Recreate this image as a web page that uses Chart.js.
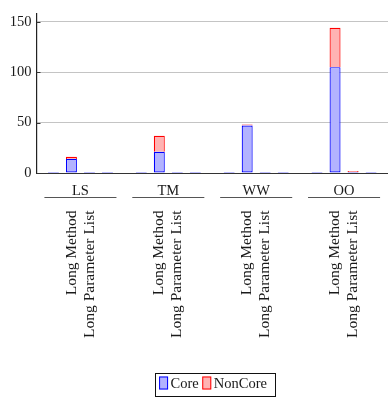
<!DOCTYPE html>
<html>
<head>
<meta charset="utf-8">
<script src="https://cdn.jsdelivr.net/npm/chart.js@4"></script>
<style>
  html, body { margin: 0; padding: 0; background: #fff; }
  canvas { display: block; }
</style>
</head>
<body>
<canvas id="c" width="388" height="398"></canvas>
<script>
// Projects (groups along the x axis)
const groups = ['LS', 'TM', 'WW', 'OO'];
// Smell names printed under the two middle bar slots of each group
const smellLabels = ['Long Method', 'Long Parameter List'];

// Core occurrences per slot (one value per project)
const coreLead        = [0, 0, 0, 0];
const coreLongMethod  = [14, 21, 47, 105];
const coreLongParam   = [0, 0, 0, 1];
const coreTrail       = [0, 0, 0, 0];

// NonCore occurrences per slot (one value per project)
const nonCoreLead       = [0, 0, 0, 0];
const nonCoreLongMethod = [2, 16, 1, 39];
const nonCoreLongParam  = [0, 0, 0, 1];
const nonCoreTrail      = [0, 0, 0, 0];

// Value axis
const yTicks = [0, 50, 100, 150];
const yMax = 158;

const SERIF = '"Liberation Serif", "Times New Roman", serif';
const TEXT = '#1a1a1a';

const coreStyle = {
  label: 'Core', backgroundColor: '#b3b3ff', borderColor: '#0000ff',
  borderSkipped: false, minBarLength: 1
};
const nonCoreStyle = {
  label: 'NonCore', backgroundColor: '#ffb3b3', borderColor: '#ff0000',
  borderSkipped: 'start'
};

const slots = [
  [coreLead, nonCoreLead],
  [coreLongMethod, nonCoreLongMethod],
  [coreLongParam, nonCoreLongParam],
  [coreTrail, nonCoreTrail]
];

const datasets = [];
slots.forEach((pair, s) => {
  datasets.push(Object.assign({ data: pair[0], stack: 'slot' + s }, coreStyle));
  datasets.push(Object.assign({ data: pair[1], stack: 'slot' + s }, nonCoreStyle));
});

// Draws the group names with rules, the rotated smell names, inner y ticks and the legend
const decorations = {
  id: 'decorations',
  afterDraw(chart) {
    const ctx = chart.ctx;
    const x = chart.scales.x;
    const y = chart.scales.y;
    const area = chart.chartArea;
    const catW = x.getPixelForValue(1) - x.getPixelForValue(0);
    const span = catW * chart.options.datasets.bar.categoryPercentage;

    ctx.save();

    // short inner tick marks on the value axis
    ctx.strokeStyle = '#333';
    ctx.lineWidth = 1;
    yTicks.forEach(v => {
      const py = Math.round(y.getPixelForValue(v)) + 0.5;
      ctx.beginPath();
      ctx.moveTo(area.left, py);
      ctx.lineTo(area.left + 4, py);
      ctx.stroke();
    });

    // group names and the rule beneath each
    ctx.fillStyle = TEXT;
    ctx.font = '14.5px ' + SERIF;
    ctx.textAlign = 'center';
    ctx.textBaseline = 'middle';
    groups.forEach((g, i) => {
      const cx = x.getPixelForValue(i);
      ctx.fillText(g, cx, area.bottom + 18.5);
      ctx.strokeStyle = '#555';
      ctx.lineWidth = 1;
      ctx.beginPath();
      ctx.moveTo(cx - span / 2, area.bottom + 24.5);
      ctx.lineTo(cx + span / 2, area.bottom + 24.5);
      ctx.stroke();
    });

    // rotated smell names under the slots that hold them
    ctx.font = '15.5px ' + SERIF;
    ctx.textAlign = 'right';
    ctx.textBaseline = 'middle';
    groups.forEach((g, i) => {
      smellLabels.forEach((name, k) => {
        const meta = chart.getDatasetMeta((k + 1) * 2);
        const bx = meta.data[i].x;
        ctx.save();
        ctx.translate(bx, area.bottom + 37.5);
        ctx.rotate(-Math.PI / 2);
        ctx.fillText(name, 0, 0);
        ctx.restore();
      });
    });

    // legend
    ctx.font = '14.5px ' + SERIF;
    const items = [coreStyle, nonCoreStyle];
    const widths = items.map(it => ctx.measureText(it.label).width);
    const padL = 4.5, box = 9, gapText = 2.5, gapItem = 3.5, padR = 8;
    let total = padL + padR;
    widths.forEach((w, i) => { total += box + gapText + w + (i < items.length - 1 ? gapItem : 0); });
    const frameTop = 373, frameH = 23;
    const cxLegend = (area.left + area.right) / 2 + 2.5;
    const lx = cxLegend - total / 2;
    ctx.strokeStyle = '#111';
    ctx.lineWidth = 1;
    ctx.strokeRect(Math.round(lx) + 0.5, frameTop + 0.5, Math.round(total), frameH);
    let px = lx + padL;
    ctx.textAlign = 'left';
    items.forEach((it, i) => {
      ctx.fillStyle = it.backgroundColor;
      ctx.fillRect(px, frameTop + 3.5, box, 13);
      ctx.strokeStyle = it.borderColor;
      ctx.strokeRect(px + 0.5, frameTop + 4, box - 1, 12);
      px += box + gapText;
      ctx.fillStyle = TEXT;
      ctx.fillText(it.label, px, frameTop + 11.5);
      px += widths[i] + gapItem;
    });

    ctx.restore();
  }
};

new Chart(document.getElementById('c'), {
  type: 'bar',
  data: { labels: groups, datasets: datasets },
  options: {
    responsive: false,
    animation: false,
    layout: { padding: { left: 0, right: 0, top: 6, bottom: 0 } },
    datasets: {
      bar: {
        categoryPercentage: 0.82,
        barPercentage: 0.61,
        borderWidth: 1.2
      }
    },
    plugins: {
      legend: { display: false },
      tooltip: { enabled: false }
    },
    scales: {
      x: {
        stacked: true,
        grid: { display: false, drawTicks: false },
        border: { display: true, color: '#333', width: 1 },
        ticks: { display: false },
        afterFit(scale) { scale.height = 225; }
      },
      y: {
        stacked: true,
        min: 0,
        max: yMax,
        afterBuildTicks(scale) { scale.ticks = yTicks.map(v => ({ value: v })); },
        afterFit(scale) { scale.width = 36.5; },
        grid: { color: '#c4c4c4', lineWidth: 1, drawTicks: false },
        border: { display: true, color: '#222', width: 1.2 },
        ticks: {
          padding: 5,
          color: TEXT,
          font: { family: SERIF, size: 14.5 }
        }
      }
    }
  },
  plugins: [decorations]
});
</script>
</body>
</html>
